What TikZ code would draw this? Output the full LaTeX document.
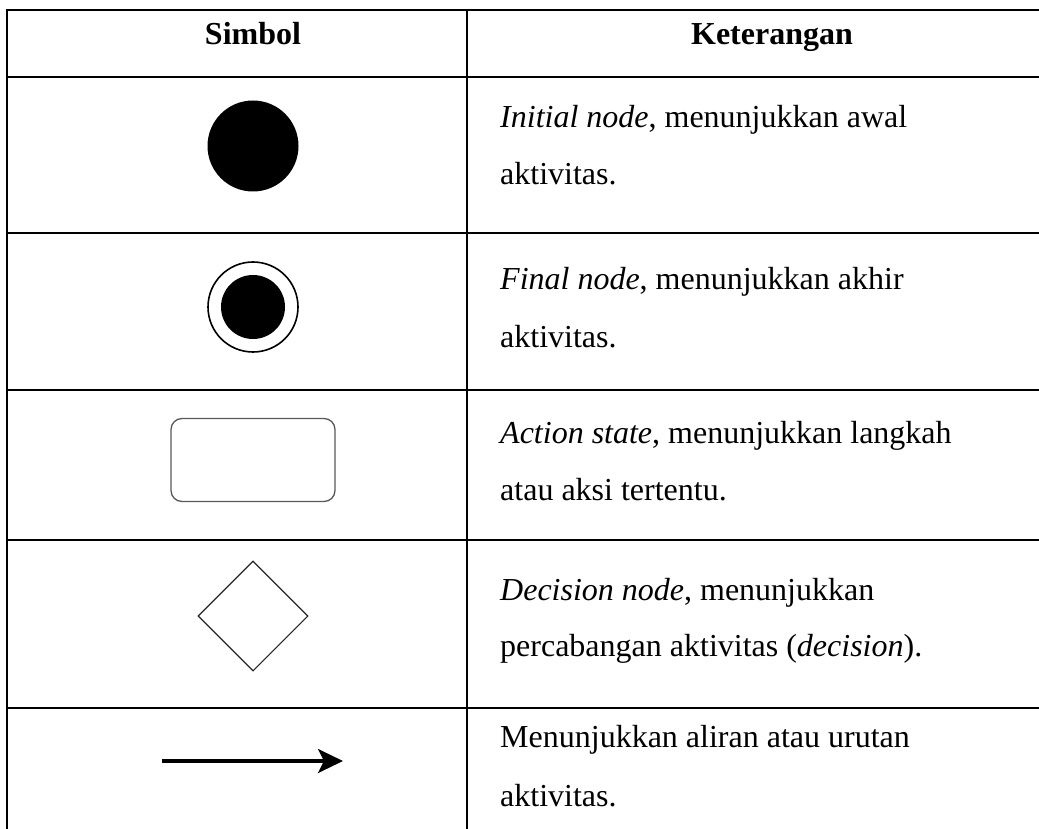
\documentclass[tikz,border=0pt]{standalone}
\usepackage{fontspec}
\setmainfont{Liberation Serif}
\usetikzlibrary{shapes.geometric,arrows.meta}
\tikzset{
  grid/.style={line width=2.3pt, black},
  txt/.style={anchor=base west, inner sep=0pt, font=\fontsize{32}{38}\selectfont},
  head/.style={anchor=base, inner sep=0pt, font=\fontsize{32}{38}\selectfont\bfseries},
}
\begin{document}
\begin{tikzpicture}[x=1pt,y=-1pt]
\useasboundingbox (0,0) rectangle (1039,829);
% table grid
\draw[grid] (1039,10) -- (7,10) -- (7,829);
\draw[grid] (467,10) -- (467,829);
\foreach \yy in {77,233,390,540,708} \draw[grid] (7,\yy) -- (1039,\yy);
% header
\node[head] (hsim) at (253,45) {Simbol};
\node[head] (hket) at (772,45) {Keterangan};
% row 1
\node[circle, fill=black, minimum size=91pt, inner sep=0pt] (init) at (253,146) {};
\node[txt] (t1a) at (500,128) {\textit{Initial node}, menunjukkan awal};
\node[txt] (t1b) at (500,185) {aktivitas.};
% row 2
\node[circle, draw=black, line width=1.6pt, minimum size=90pt, inner sep=0pt] (fin) at (253,307) {};
\node[circle, fill=black, minimum size=64pt, inner sep=0pt] (finin) at (fin) {};
\node[txt] (t2a) at (500,290) {\textit{Final node}, menunjukkan akhir};
\node[txt] (t2b) at (500,347) {aktivitas.};
% row 3
\node[rectangle, rounded corners=11pt, draw=black!65, line width=1.3pt, minimum width=164pt, minimum height=83pt, inner sep=0pt] (act) at (253,460) {};
\node[txt] (t3a) at (500,443) {\textit{Action state}, menunjukkan langkah};
\node[txt] (t3b) at (500,500) {atau aksi tertentu.};
% row 4
\node[diamond, draw=black!85, line width=1.1pt, minimum width=110pt, minimum height=110pt, inner sep=0pt] (dec) at (253,616) {};
\node[txt] (t4a) at (500,600) {\textit{Decision node}, menunjukkan};
\node[txt] (t4b) at (500,656) {percabangan aktivitas (\textit{decision}).};
% row 5
\coordinate (a1) at (162,761);
\coordinate (a2) at (343,761);
\draw[line width=3.2pt, -{Stealth[length=25pt, width=24pt, inset=6pt]}] (a1) -- (a2);
\node[txt] (t5a) at (500,747) {Menunjukkan aliran atau urutan};
\node[txt] (t5b) at (500,806) {aktivitas.};
\end{tikzpicture}
\end{document}
